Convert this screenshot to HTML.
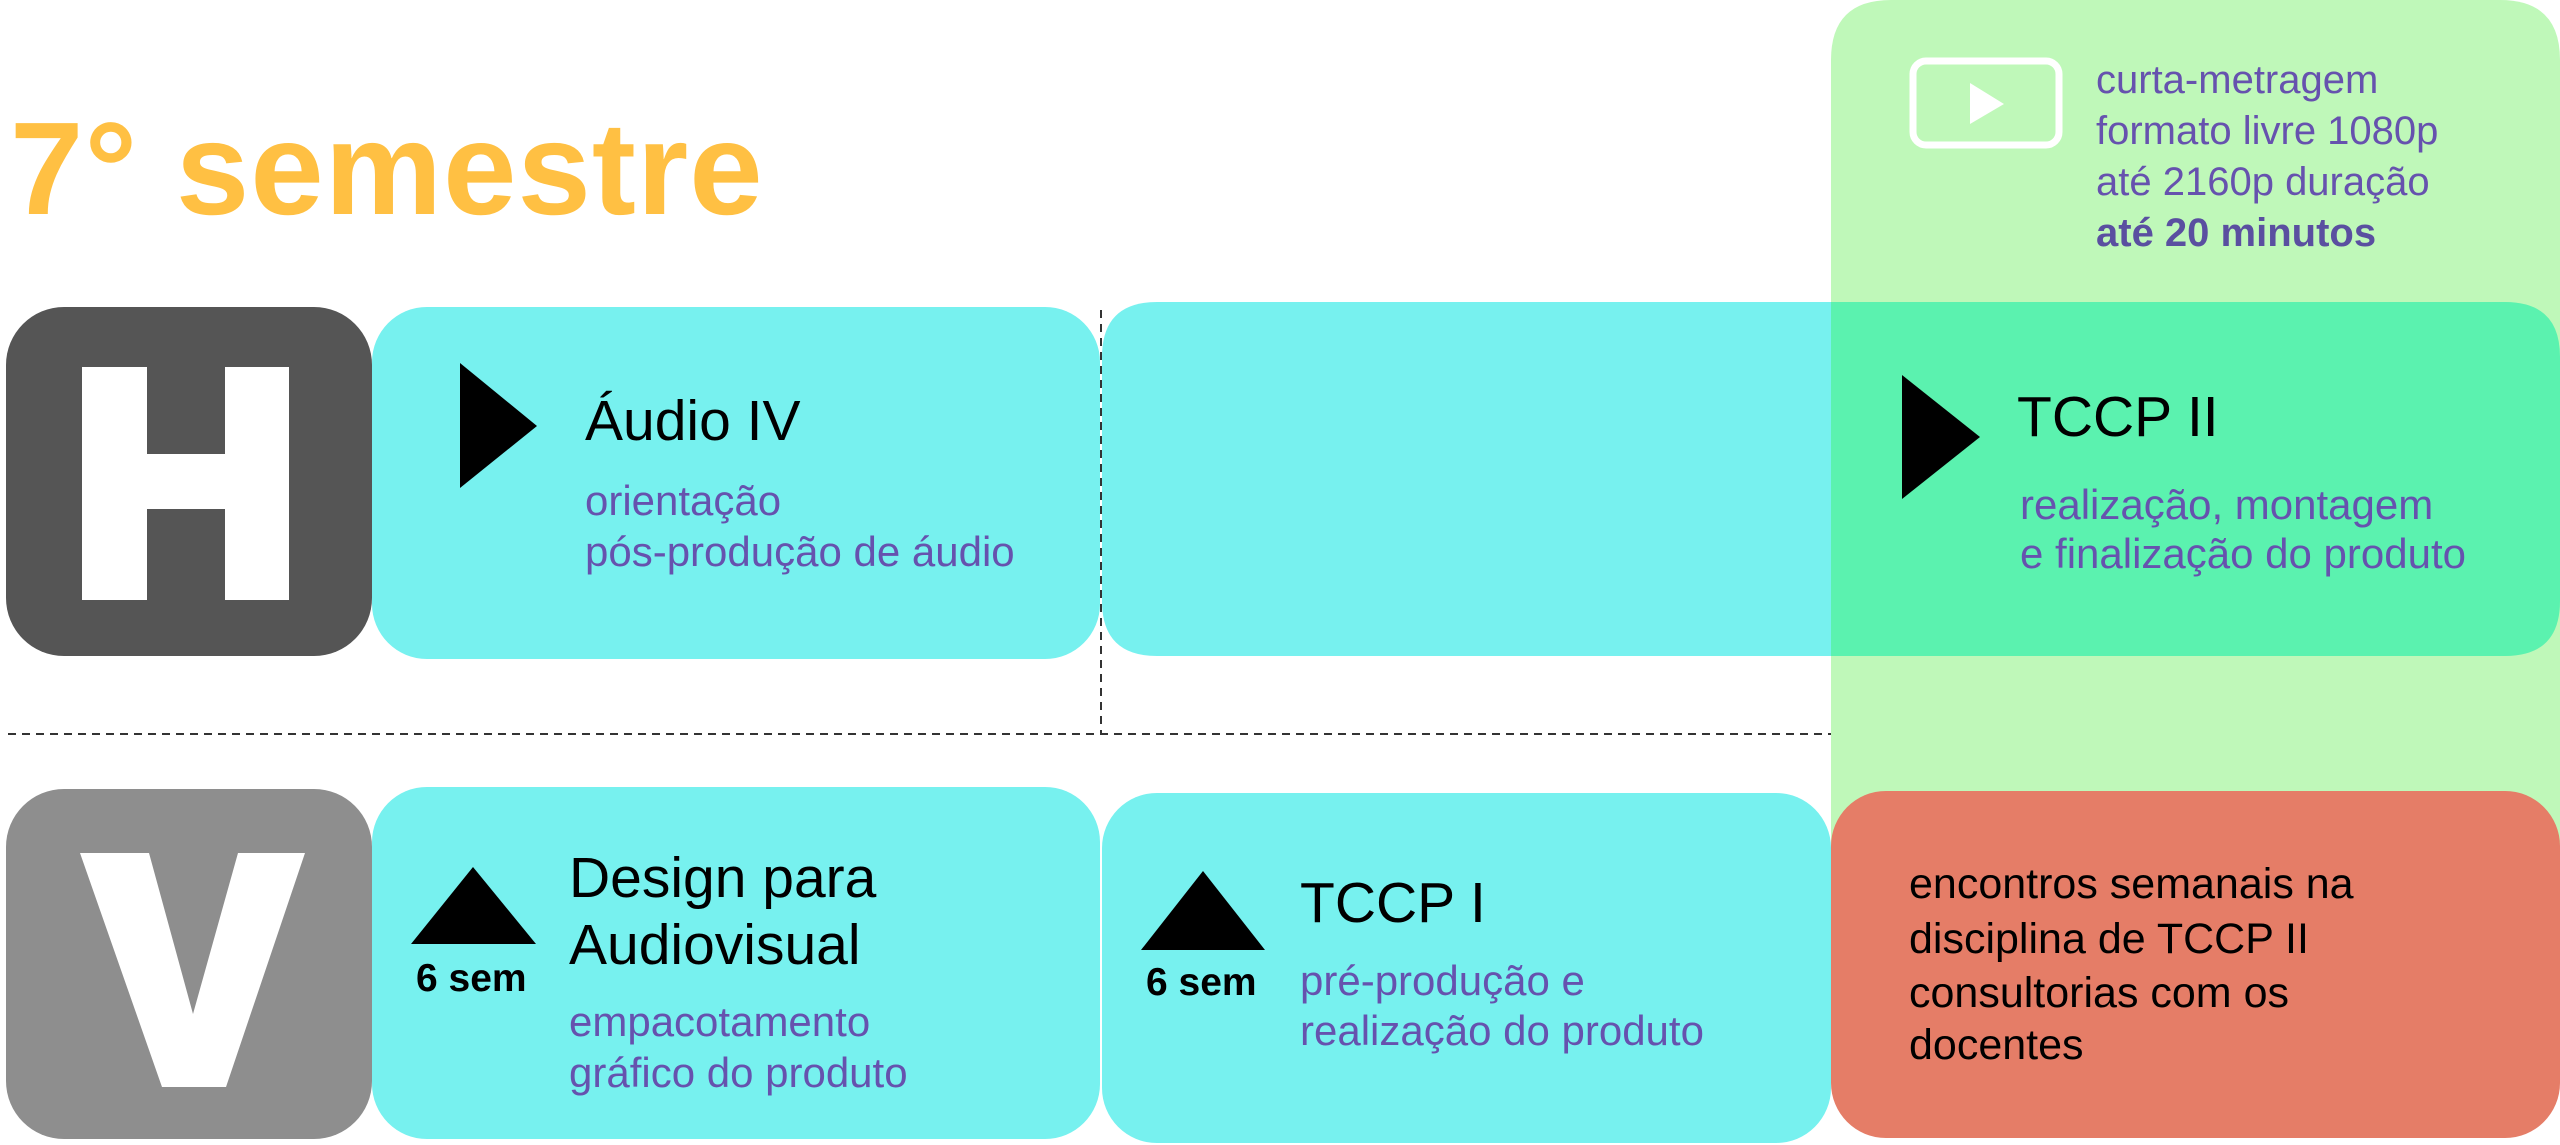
<!DOCTYPE html>
<html><head><meta charset="utf-8"><style>
html,body{margin:0;padding:0;background:#fff;}
svg{display:block;}
text{font-family:"Liberation Sans",sans-serif;}
</style></head><body>
<svg width="2560" height="1145" viewBox="0 0 2560 1145" xmlns="http://www.w3.org/2000/svg">
<!-- green panel -->
<path d="M1831 60 Q1831 0 1891 0 L2500 0 Q2560 0 2560 60 L2560 1000 L1831 1000 Z" fill="#BFF8B9"/>
<!-- title -->
<text x="10" y="214" font-size="132" font-weight="bold" fill="#FFC043" letter-spacing="1">7° semestre</text>
<!-- H box -->
<rect x="6" y="307" width="366" height="349" rx="58" fill="#555555"/>
<path d="M82 367 H147 V454 H225 V367 H289 V600 H225 V509 H147 V600 H82 Z" fill="#fff"/>
<!-- V box -->
<rect x="6" y="789" width="366" height="350" rx="58" fill="#8E8E8E"/>
<path d="M80 853 H149 L193 1014 L238 853 H305 L226 1087 H162 Z" fill="#fff"/>
<!-- Audio IV box -->
<rect x="372" y="307" width="728" height="352" rx="55" fill="#77F1EF"/>
<!-- middle/top box -->
<path d="M1157 302 H1831 V656 H1157 Q1102 656 1102 601 V357 Q1102 302 1157 302 Z" fill="#77F1EF"/>
<path d="M1831 302 H2505 Q2560 302 2560 357 V601 Q2560 656 2505 656 H1831 Z" fill="#5BF2AF"/>
<!-- bottom boxes -->
<rect x="372" y="787" width="728" height="352" rx="55" fill="#77F1EF"/>
<rect x="1102" y="793" width="729" height="350" rx="55" fill="#77F1EF"/>
<rect x="1831" y="791" width="729" height="347" rx="55" fill="#E57D67"/>
<!-- dashed lines -->
<line x1="1101" y1="310" x2="1101" y2="734" stroke="#333" stroke-width="2" stroke-dasharray="8,6"/>
<line x1="8" y1="734" x2="1831" y2="734" stroke="#333" stroke-width="2" stroke-dasharray="8,6"/>
<!-- triangles -->
<polygon points="460,363 537,426 460,488" fill="#000"/>
<polygon points="1902,375 1980,437 1902,499" fill="#000"/>
<polygon points="411,944 473,867 536,944" fill="#000"/>
<polygon points="1141,950 1203,871 1265,950" fill="#000"/>
<text x="416" y="991" font-size="39" font-weight="bold" fill="#000">6 sem</text>
<text x="1146" y="995" font-size="39" font-weight="bold" fill="#000">6 sem</text>
<!-- texts -->
<text x="585" y="440" font-size="57" fill="#000">Áudio IV</text>
<text x="585" y="515" font-size="42" fill="#6652AE">orientação</text>
<text x="585" y="566" font-size="42" fill="#6652AE">pós-produção de áudio</text>

<text x="569" y="897" font-size="57" fill="#000">Design para</text>
<text x="569" y="964" font-size="57" fill="#000">Audiovisual</text>
<text x="569" y="1036" font-size="42" fill="#6652AE">empacotamento</text>
<text x="569" y="1087" font-size="42" fill="#6652AE">gráfico do produto</text>

<text x="1300" y="922" font-size="57" fill="#000">TCCP I</text>
<text x="1300" y="995" font-size="42" fill="#6652AE">pré-produção e</text>
<text x="1300" y="1045" font-size="42" fill="#6652AE">realização do produto</text>

<text x="2017" y="436" font-size="57" fill="#000">TCCP II</text>
<text x="2020" y="519" font-size="42" fill="#6652AE">realização, montagem</text>
<text x="2020" y="568" font-size="42" fill="#6652AE">e finalização do produto</text>

<!-- video icon -->
<rect x="1913" y="61" width="146" height="84" rx="13" fill="none" stroke="#fff" stroke-width="7"/>
<polygon points="1970,83 2004,104 1970,124" fill="#fff"/>
<text x="2096" y="93" font-size="40" fill="#6652AE">curta-metragem</text>
<text x="2096" y="144" font-size="40" fill="#6652AE">formato livre 1080p</text>
<text x="2096" y="195" font-size="40" fill="#6652AE">até 2160p duração</text>
<text x="2096" y="246" font-size="40" font-weight="bold" fill="#5A4FA0">até 20 minutos</text>

<text x="1909" y="898" font-size="43" fill="#000">encontros semanais na</text>
<text x="1909" y="953" font-size="43" fill="#000">disciplina de TCCP II</text>
<text x="1909" y="1007" font-size="43" fill="#000">consultorias com os</text>
<text x="1909" y="1059" font-size="43" fill="#000">docentes</text>
</svg>
</body></html>
